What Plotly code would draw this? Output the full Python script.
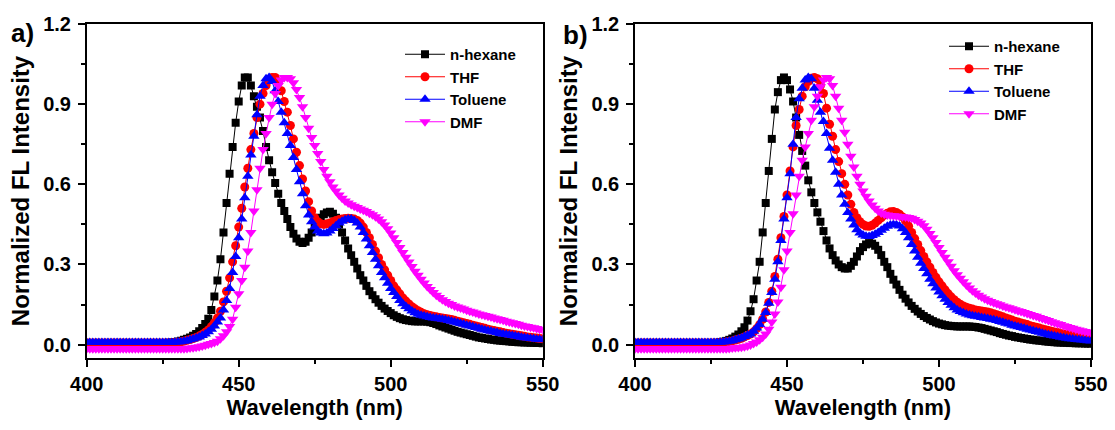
import plotly.graph_objects as go

# ---------------- data ----------------
wavelength = list(range(400, 551))  # nm, 1 nm step

series_names = ["n-hexane", "THF", "Toluene", "DMF"]

# Panel a)
A_HEX = [
    0.005, 0.005, 0.005, 0.005, 0.005, 0.005, 0.005, 0.005, 0.005, 0.005,
    0.005, 0.005, 0.005, 0.005, 0.005, 0.005, 0.005, 0.005, 0.005, 0.005,
    0.005, 0.005, 0.005, 0.005, 0.005, 0.005, 0.006, 0.007, 0.008, 0.010,
    0.012, 0.015, 0.018, 0.022, 0.027, 0.033, 0.040, 0.050, 0.062, 0.077,
    0.097, 0.130, 0.180, 0.240, 0.320, 0.420, 0.530, 0.640, 0.740, 0.830,
    0.910, 0.970, 1.000, 1.000, 0.970, 0.930, 0.890, 0.850, 0.800, 0.740,
    0.690, 0.645, 0.605, 0.565, 0.530, 0.500, 0.470, 0.440, 0.415, 0.397,
    0.385, 0.380, 0.385, 0.400, 0.420, 0.440, 0.460, 0.475, 0.488, 0.495,
    0.497, 0.490, 0.475, 0.450, 0.420, 0.390, 0.360, 0.335, 0.310, 0.285,
    0.260, 0.240, 0.220, 0.200, 0.185, 0.170, 0.157, 0.145, 0.135, 0.126,
    0.118, 0.110, 0.104, 0.099, 0.095, 0.092, 0.090, 0.088, 0.087, 0.087,
    0.087, 0.087, 0.086, 0.084, 0.081, 0.077, 0.072, 0.068, 0.064, 0.060,
    0.056, 0.052, 0.048, 0.045, 0.042, 0.039, 0.036, 0.033, 0.030, 0.027,
    0.025, 0.023, 0.021, 0.019, 0.018, 0.016, 0.015, 0.014, 0.013, 0.012,
    0.011, 0.010, 0.009, 0.009, 0.008, 0.008, 0.007, 0.007, 0.006, 0.006,
    0.005,
]
A_THF = [
    0.006, 0.006, 0.006, 0.006, 0.006, 0.006, 0.006, 0.006, 0.006, 0.006,
    0.006, 0.006, 0.006, 0.006, 0.006, 0.006, 0.006, 0.006, 0.006, 0.006,
    0.006, 0.006, 0.006, 0.006, 0.006, 0.006, 0.006, 0.006, 0.006, 0.008,
    0.009, 0.011, 0.013, 0.016, 0.019, 0.023, 0.027, 0.032, 0.038, 0.046,
    0.055, 0.067, 0.082, 0.100, 0.125, 0.160, 0.200, 0.250, 0.310, 0.370,
    0.440, 0.510, 0.590, 0.660, 0.730, 0.790, 0.850, 0.900, 0.940, 0.970,
    0.990, 1.000, 1.000, 0.980, 0.950, 0.910, 0.870, 0.820, 0.770, 0.720,
    0.670, 0.620, 0.575, 0.535, 0.500, 0.475, 0.460, 0.452, 0.450, 0.452,
    0.455, 0.460, 0.465, 0.468, 0.470, 0.472, 0.473, 0.472, 0.470, 0.465,
    0.455, 0.440, 0.420, 0.400, 0.375, 0.350, 0.325, 0.300, 0.280, 0.260,
    0.240, 0.220, 0.205, 0.190, 0.175, 0.163, 0.152, 0.142, 0.134, 0.127,
    0.121, 0.116, 0.112, 0.109, 0.106, 0.104, 0.102, 0.100, 0.098, 0.096,
    0.094, 0.091, 0.088, 0.085, 0.082, 0.079, 0.076, 0.073, 0.070, 0.067,
    0.064, 0.061, 0.058, 0.055, 0.053, 0.050, 0.048, 0.045, 0.043, 0.041,
    0.039, 0.037, 0.035, 0.033, 0.031, 0.029, 0.028, 0.026, 0.025, 0.023,
    0.022,
]
A_TOL = [
    0.008, 0.008, 0.008, 0.008, 0.008, 0.008, 0.008, 0.008, 0.008, 0.008,
    0.008, 0.008, 0.008, 0.008, 0.008, 0.008, 0.008, 0.008, 0.008, 0.008,
    0.008, 0.008, 0.008, 0.008, 0.008, 0.008, 0.008, 0.008, 0.008, 0.009,
    0.010, 0.011, 0.013, 0.015, 0.018, 0.021, 0.025, 0.029, 0.034, 0.040,
    0.048, 0.058, 0.070, 0.085, 0.100, 0.130, 0.165, 0.210, 0.270, 0.330,
    0.400, 0.470, 0.550, 0.630, 0.710, 0.780, 0.860, 0.930, 0.970, 0.995,
    1.000, 0.985, 0.950, 0.910, 0.870, 0.830, 0.790, 0.745, 0.700, 0.655,
    0.610, 0.565, 0.520, 0.485, 0.460, 0.440, 0.425, 0.418, 0.415, 0.418,
    0.425, 0.435, 0.445, 0.455, 0.462, 0.467, 0.470, 0.470, 0.465, 0.455,
    0.440, 0.420, 0.395, 0.370, 0.345, 0.320, 0.295, 0.270, 0.250, 0.230,
    0.210, 0.195, 0.180, 0.165, 0.153, 0.143, 0.134, 0.126, 0.119, 0.114,
    0.110, 0.107, 0.104, 0.102, 0.100, 0.099, 0.097, 0.095, 0.093, 0.090,
    0.088, 0.085, 0.082, 0.079, 0.076, 0.073, 0.070, 0.067, 0.064, 0.061,
    0.058, 0.055, 0.052, 0.050, 0.047, 0.045, 0.042, 0.040, 0.038, 0.036,
    0.034, 0.032, 0.030, 0.028, 0.026, 0.025, 0.023, 0.022, 0.020, 0.019,
    0.018,
]
A_DMF = [
    -0.015, -0.015, -0.015, -0.015, -0.015, -0.015, -0.015, -0.015, -0.015, -0.015,
    -0.015, -0.015, -0.015, -0.015, -0.015, -0.015, -0.015, -0.015, -0.015, -0.015,
    -0.015, -0.015, -0.015, -0.015, -0.015, -0.015, -0.015, -0.015, -0.015, -0.015,
    -0.015, -0.015, -0.015, -0.014, -0.013, -0.012, -0.010, -0.008, -0.005, -0.002,
    0.001, 0.004, 0.008, 0.013, 0.022, 0.033, 0.048, 0.068, 0.095, 0.140,
    0.190, 0.240, 0.290, 0.350, 0.420, 0.500, 0.580, 0.660, 0.730, 0.790,
    0.850, 0.900, 0.940, 0.970, 0.990, 1.000, 1.000, 0.995, 0.980, 0.955,
    0.925, 0.890, 0.850, 0.810, 0.775, 0.745, 0.715, 0.685, 0.655, 0.630,
    0.610, 0.590, 0.575, 0.560, 0.548, 0.538, 0.530, 0.524, 0.518, 0.513,
    0.508, 0.503, 0.498, 0.492, 0.486, 0.479, 0.470, 0.460, 0.448, 0.434,
    0.418, 0.400, 0.382, 0.364, 0.345, 0.327, 0.309, 0.292, 0.275, 0.260,
    0.245, 0.231, 0.218, 0.206, 0.195, 0.185, 0.176, 0.168, 0.161, 0.155,
    0.150, 0.145, 0.141, 0.137, 0.133, 0.129, 0.125, 0.122, 0.118, 0.115,
    0.112, 0.109, 0.106, 0.103, 0.100, 0.097, 0.094, 0.091, 0.088, 0.085,
    0.082, 0.079, 0.076, 0.073, 0.070, 0.068, 0.065, 0.063, 0.060, 0.058,
    0.056,
]

# Panel b)
B_HEX = [
    0.005, 0.005, 0.005, 0.005, 0.005, 0.005, 0.005, 0.005, 0.005, 0.005,
    0.005, 0.005, 0.005, 0.005, 0.005, 0.005, 0.005, 0.005, 0.005, 0.005,
    0.005, 0.005, 0.005, 0.005, 0.005, 0.005, 0.005, 0.007, 0.009, 0.011,
    0.014, 0.018, 0.023, 0.030, 0.038, 0.050, 0.065, 0.090, 0.125, 0.170,
    0.240, 0.310, 0.420, 0.530, 0.650, 0.770, 0.880, 0.945, 0.990, 1.000,
    0.990, 0.955, 0.910, 0.850, 0.785, 0.725, 0.670, 0.615, 0.570, 0.530,
    0.495, 0.460, 0.425, 0.390, 0.360, 0.335, 0.315, 0.300, 0.290, 0.285,
    0.285, 0.295, 0.310, 0.330, 0.350, 0.365, 0.375, 0.380, 0.378, 0.370,
    0.355, 0.335, 0.310, 0.290, 0.265, 0.243, 0.225, 0.205, 0.187, 0.172,
    0.158, 0.145, 0.134, 0.124, 0.115, 0.107, 0.100, 0.094, 0.088, 0.083,
    0.079, 0.076, 0.073, 0.071, 0.070, 0.069, 0.068, 0.068, 0.068, 0.068,
    0.068, 0.067, 0.066, 0.064, 0.062, 0.059, 0.056, 0.053, 0.050, 0.047,
    0.043, 0.040, 0.037, 0.034, 0.032, 0.029, 0.027, 0.025, 0.023, 0.021,
    0.019, 0.018, 0.016, 0.015, 0.014, 0.012, 0.011, 0.010, 0.009, 0.008,
    0.008, 0.007, 0.007, 0.006, 0.006, 0.005, 0.005, 0.005, 0.004, 0.004,
    0.004,
]
B_THF = [
    0.006, 0.006, 0.006, 0.006, 0.006, 0.006, 0.006, 0.006, 0.006, 0.006,
    0.006, 0.006, 0.006, 0.006, 0.006, 0.006, 0.006, 0.006, 0.006, 0.006,
    0.006, 0.006, 0.006, 0.006, 0.006, 0.006, 0.006, 0.006, 0.007, 0.008,
    0.010, 0.012, 0.014, 0.017, 0.020, 0.024, 0.029, 0.034, 0.040, 0.048,
    0.060, 0.075, 0.095, 0.122, 0.158, 0.200, 0.255, 0.320, 0.400, 0.480,
    0.560, 0.650, 0.740, 0.820, 0.880, 0.930, 0.965, 0.985, 0.997, 1.000,
    0.995, 0.970, 0.940, 0.885, 0.825, 0.780, 0.730, 0.685, 0.640, 0.600,
    0.560, 0.525, 0.495, 0.475, 0.460, 0.450, 0.444, 0.443, 0.447, 0.455,
    0.465, 0.475, 0.485, 0.492, 0.497, 0.498, 0.495, 0.488, 0.478, 0.463,
    0.443, 0.420, 0.397, 0.375, 0.352, 0.330, 0.310, 0.290, 0.270, 0.252,
    0.235, 0.220, 0.205, 0.191, 0.179, 0.168, 0.159, 0.151, 0.145, 0.140,
    0.136, 0.133, 0.130, 0.128, 0.126, 0.124, 0.122, 0.119, 0.116, 0.112,
    0.108, 0.104, 0.100, 0.096, 0.092, 0.088, 0.085, 0.081, 0.078, 0.075,
    0.071, 0.068, 0.065, 0.062, 0.059, 0.056, 0.053, 0.050, 0.047, 0.045,
    0.042, 0.040, 0.038, 0.036, 0.034, 0.032, 0.030, 0.029, 0.027, 0.026,
    0.025,
]
B_TOL = [
    0.008, 0.008, 0.008, 0.008, 0.008, 0.008, 0.008, 0.008, 0.008, 0.008,
    0.008, 0.008, 0.008, 0.008, 0.008, 0.008, 0.008, 0.008, 0.008, 0.008,
    0.008, 0.008, 0.008, 0.008, 0.008, 0.008, 0.008, 0.008, 0.009, 0.010,
    0.011, 0.013, 0.015, 0.018, 0.021, 0.025, 0.030, 0.035, 0.040, 0.050,
    0.062, 0.075, 0.095, 0.120, 0.155, 0.195, 0.245, 0.310, 0.390, 0.470,
    0.550, 0.640, 0.750, 0.850, 0.920, 0.960, 0.990, 1.000, 0.995, 0.960,
    0.915, 0.870, 0.835, 0.790, 0.735, 0.690, 0.645, 0.600, 0.560, 0.525,
    0.495, 0.470, 0.448, 0.430, 0.418, 0.410, 0.406, 0.405, 0.408, 0.413,
    0.420, 0.428, 0.436, 0.443, 0.448, 0.450, 0.449, 0.444, 0.434, 0.420,
    0.400, 0.375, 0.350, 0.327, 0.305, 0.285, 0.265, 0.245, 0.228, 0.212,
    0.197, 0.183, 0.170, 0.158, 0.147, 0.138, 0.130, 0.124, 0.119, 0.115,
    0.111, 0.108, 0.106, 0.104, 0.102, 0.100, 0.098, 0.095, 0.093, 0.090,
    0.087, 0.084, 0.080, 0.077, 0.073, 0.070, 0.067, 0.064, 0.061, 0.058,
    0.055, 0.052, 0.049, 0.046, 0.043, 0.040, 0.037, 0.035, 0.032, 0.030,
    0.028, 0.026, 0.024, 0.022, 0.021, 0.019, 0.018, 0.017, 0.016, 0.015,
    0.014,
]
B_DMF = [
    -0.015, -0.015, -0.015, -0.015, -0.015, -0.015, -0.015, -0.015, -0.015, -0.015,
    -0.015, -0.015, -0.015, -0.015, -0.015, -0.015, -0.015, -0.015, -0.015, -0.015,
    -0.015, -0.015, -0.015, -0.015, -0.015, -0.015, -0.015, -0.015, -0.015, -0.015,
    -0.015, -0.014, -0.013, -0.012, -0.011, -0.010, -0.008, -0.005, -0.001, 0.004,
    0.010, 0.018, 0.028, 0.040, 0.058, 0.085, 0.115, 0.160, 0.215, 0.280,
    0.350, 0.420, 0.490, 0.560, 0.630, 0.690, 0.740, 0.790, 0.840, 0.890,
    0.930, 0.965, 0.990, 1.000, 0.995, 0.970, 0.930, 0.885, 0.840, 0.795,
    0.750, 0.705, 0.665, 0.630, 0.600, 0.575, 0.555, 0.538, 0.523, 0.510,
    0.500, 0.493, 0.488, 0.485, 0.483, 0.482, 0.481, 0.480, 0.479, 0.478,
    0.476, 0.473, 0.468, 0.462, 0.455, 0.445, 0.432, 0.416, 0.400, 0.382,
    0.364, 0.345, 0.327, 0.310, 0.293, 0.277, 0.262, 0.248, 0.235, 0.223,
    0.212, 0.202, 0.193, 0.185, 0.178, 0.172, 0.166, 0.161, 0.157, 0.153,
    0.149, 0.145, 0.141, 0.138, 0.134, 0.131, 0.127, 0.124, 0.120, 0.117,
    0.113, 0.109, 0.106, 0.102, 0.098, 0.094, 0.090, 0.086, 0.082, 0.078,
    0.075, 0.071, 0.068, 0.064, 0.061, 0.058, 0.055, 0.052, 0.049, 0.047,
    0.045,
]

x_ticks = [400, 450, 500, 550]
y_ticks = [0.0, 0.3, 0.6, 0.9, 1.2]
panel_labels = ["a)", "b)"]

# ---------------- style ----------------
colors = ["#000000", "#FF0000", "#0000FF", "#FF00FF"]
symbols = ["square", "circle", "triangle-up", "triangle-down"]
sizes = [8, 9, 10, 10]
FONT = "Liberation Sans, Arial, sans-serif"

W, H = 1115, 430
MT, MB = 24, 72
PH = H - MT - MB


def py(y):  # pixel row -> paper y
    return (H - MB - y) / PH


fig = go.Figure()

panels = [
    ([A_HEX, A_THF, A_TOL, A_DMF], "x", "y", "legend"),
    ([B_HEX, B_THF, B_TOL, B_DMF], "x2", "y2", "legend2"),
]
for data, xa, ya, leg in panels:
    for name, vals, c, s, sz in zip(series_names, data, colors, symbols, sizes):
        assert len(vals) == len(wavelength)
        fig.add_trace(go.Scatter(
            x=wavelength, y=vals, mode="lines+markers", name=name,
            line=dict(color=c, width=1),
            marker=dict(symbol=s, size=sz, color=c, line=dict(width=0)),
            xaxis=xa, yaxis=ya, legend=leg,
        ))

tickfont = dict(family=FONT, size=20, color="black", weight="bold")
xtitlefont = dict(family=FONT, size=22, color="black", weight="bold")
ytitlefont = dict(family=FONT, size=24, color="black", weight="bold")

xcommon = dict(
    range=[400, 550], tickvals=x_ticks, ticks="outside", ticklen=7, tickwidth=1.5,
    tickcolor="black", showline=True, mirror=True, linewidth=1.5, linecolor="black",
    showgrid=False, zeroline=False, tickfont=tickfont,
    minor=dict(dtick=25, tick0=400, ticks="outside", ticklen=4, tickwidth=1.5,
               tickcolor="black", showgrid=False),
    title=dict(text="Wavelength (nm)", font=xtitlefont, standoff=4),
)
ycommon = dict(
    range=[-0.05, 1.2], tickvals=y_ticks, tickformat=".1f", ticks="outside",
    ticklen=7, tickwidth=1.5, tickcolor="black", showline=True, mirror=True,
    linewidth=1.5, linecolor="black", showgrid=False, zeroline=False,
    tickfont=tickfont, ticklabelstandoff=3,
    minor=dict(dtick=0.15, tick0=0, ticks="outside", ticklen=4, tickwidth=1.5,
               tickcolor="black", showgrid=False),
    title=dict(text="Normalized FL Intensity", font=ytitlefont, standoff=7),
)

legcommon = dict(
    xanchor="left", yanchor="top", bgcolor="rgba(0,0,0,0)", borderwidth=0,
    font=dict(family=FONT, size=15, color="black", weight="bold"),
    itemwidth=40, tracegroupgap=0, traceorder="normal",
)

fig.update_layout(
    width=W, height=H, margin=dict(l=0, r=0, t=MT, b=MB, autoexpand=False),
    paper_bgcolor="white", plot_bgcolor="white",
    showlegend=True,
    xaxis=dict(domain=[86.7 / W, 542.7 / W], anchor="y", **xcommon),
    yaxis=dict(domain=[0, 1], anchor="x", **ycommon),
    xaxis2=dict(domain=[635 / W, 1091 / W], anchor="y2", **xcommon),
    yaxis2=dict(domain=[0, 1], anchor="x2", **ycommon),
    legend=dict(x=400 / W, y=py(38), **legcommon),
    legend2=dict(x=944 / W, y=py(30), **legcommon),
    annotations=[
        dict(text=panel_labels[0], x=9 / W, y=py(33), xref="paper", yref="paper",
             xanchor="left", yanchor="middle", showarrow=False,
             font=dict(family=FONT, size=26, color="black", weight="bold")),
        dict(text=panel_labels[1], x=561 / W, y=py(35), xref="paper", yref="paper",
             xanchor="left", yanchor="middle", showarrow=False,
             font=dict(family=FONT, size=26, color="black", weight="bold")),
    ],
)

fig.write_html("out.html")
